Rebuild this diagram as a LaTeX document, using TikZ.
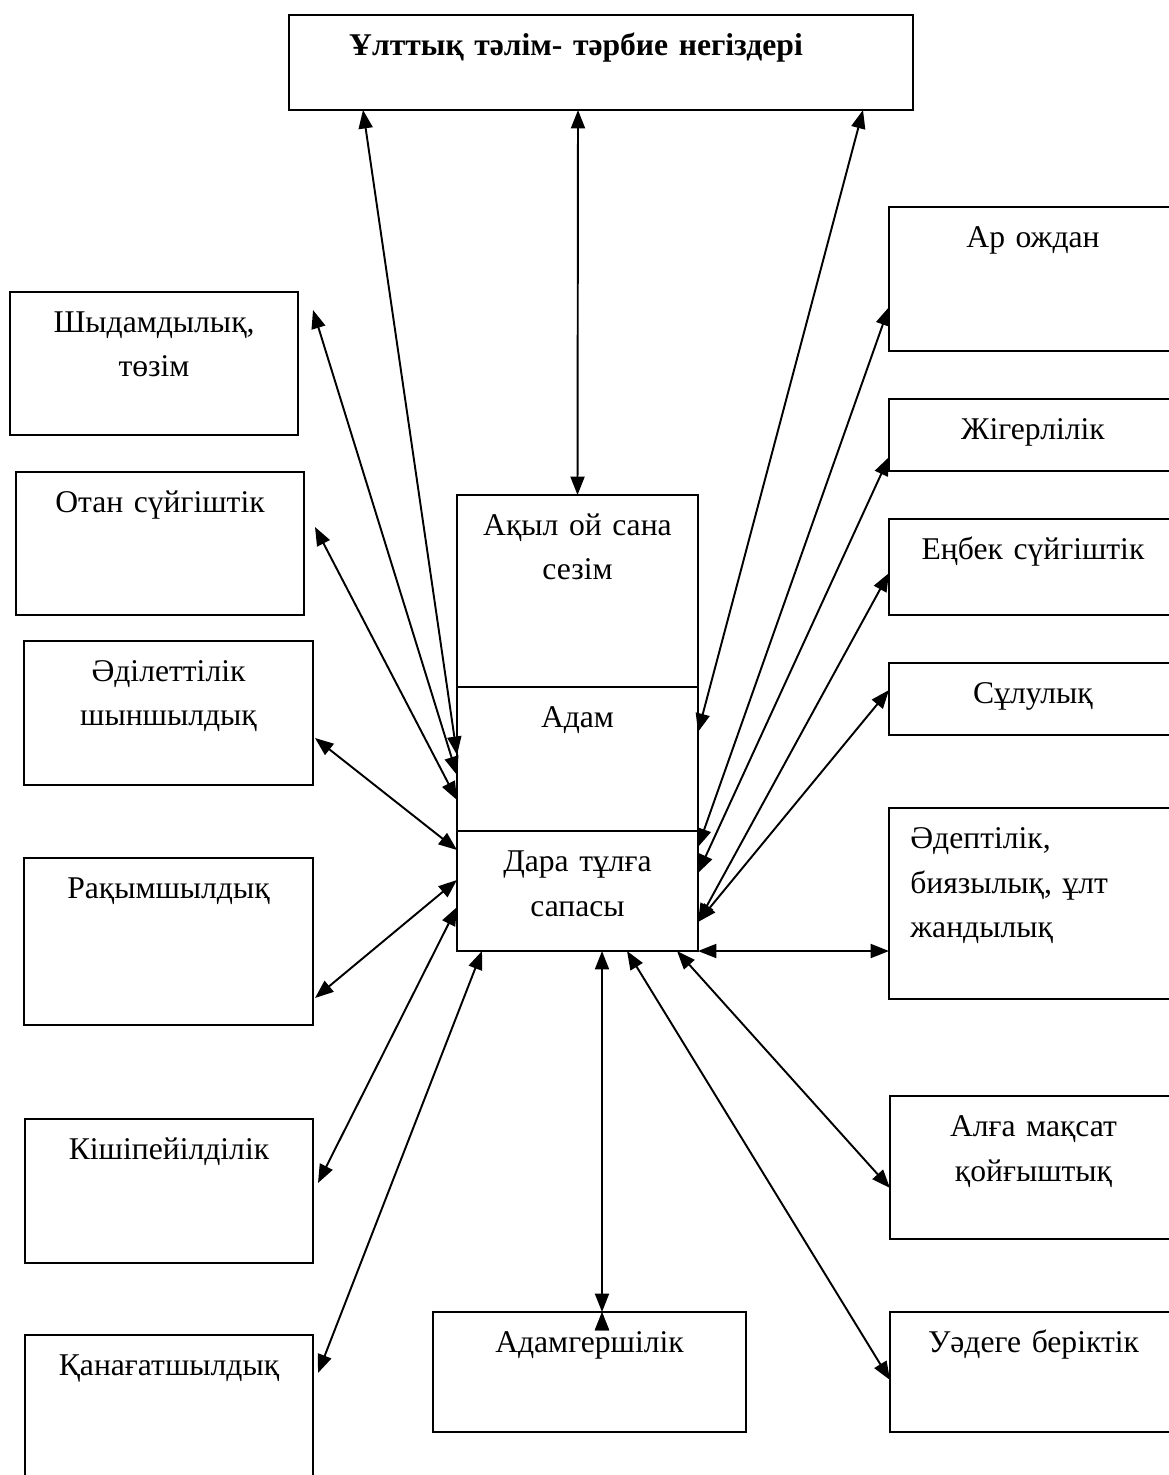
\documentclass[tikz,border=0pt]{standalone}
\usepackage{fontspec}
\setmainfont{Liberation Serif}
\usepackage{tikz}
\usetikzlibrary{arrows.meta, positioning, calc}

\newcommand{\boxfont}{\fontsize{18}{25.6}\selectfont}

\begin{document}
\begin{tikzpicture}[x=0.2mm, y=-0.2mm, >={Triangle[length=10.5pt,width=8pt]}]
    \tikzstyle{box}=[shape=rectangle, draw, line width=1.1pt, anchor=north west, inner sep=0pt, outer sep=0pt]
    \tikzstyle{txt}=[anchor=base, yshift=-8mm, text width=5.6cm, align=center, inner sep=0pt, font=\boxfont]

    \useasboundingbox (0,0) rectangle (1169,1475);

    % top
    \node[box, minimum width=124.8mm, minimum height=19mm,
      label={[txt, text width=11cm, xshift=-5mm, font=\boxfont\bfseries]north:{Ұлттық тәлім- тәрбие негіздері}}] (T0) at (289,15) {};

    % centre
    \node[box, minimum width=48.2mm, minimum height=38.4mm,
      label={[txt]north:{Ақыл ой сана\\ сезім}}] (C0) at (457,495) {};
    \node[box, minimum width=48.2mm, minimum height=28.8mm, below=0pt of C0,
      label={[txt]north:{Адам}}] (C1) {};
    \node[box, minimum width=48.2mm, minimum height=24mm, below=0pt of C1,
      label={[txt]north:{Дара тұлға\\ сапасы}}] (C2) {};

    % left
    \node[box, minimum width=57.6mm, minimum height=28.6mm,
      label={[txt]north:{Шыдамдылық,\\ төзім}}] (L0) at (10,292) {};
    \node[box, minimum width=57.6mm, minimum height=28.6mm,
      label={[txt]north:{Отан сүйгіштік}}] (L1) at (16,472) {};
    \node[box, minimum width=57.8mm, minimum height=28.8mm,
      label={[txt]north:{Әділеттілік\\ шыншылдық}}] (L2) at (24,641) {};
    \node[box, minimum width=57.8mm, minimum height=33.4mm,
      label={[txt]north:{Рақымшылдық}}] (L3) at (24,858) {};
    \node[box, minimum width=57.6mm, minimum height=28.8mm,
      label={[txt]north:{Кішіпейілділік}}] (L4) at (25,1119) {};
    \node[box, minimum width=57.6mm, minimum height=30mm,
      label={[txt]north:{Қанағатшылдық}}] (L5) at (25,1335) {};

    % right
    \node[box, minimum width=57.6mm, minimum height=28.8mm,
      label={[txt]north:{Ар ождан}}] (R0) at (889,207) {};
    \node[box, minimum width=57.6mm, minimum height=14.4mm,
      label={[txt]north:{Жігерлілік}}] (R1) at (889,399) {};
    \node[box, minimum width=57.6mm, minimum height=19.2mm,
      label={[txt]north:{Еңбек сүйгіштік}}] (R2) at (889,519) {};
    \node[box, minimum width=57.6mm, minimum height=14.4mm,
      label={[txt]north:{Сұлулық}}] (R3) at (889,663) {};
    \node[box, minimum width=57.6mm, minimum height=38.2mm,
      label={[txt, anchor=base west, xshift=4.2mm, align=left]north west:{Әдептілік,\\ биязылық, ұлт\\ жандылық}}] (R4) at (889,808) {};
    \node[box, minimum width=57.4mm, minimum height=28.6mm,
      label={[txt]north:{Алға мақсат\\ қойғыштық}}] (R5) at (890,1096) {};
    \node[box, minimum width=57.4mm, minimum height=24mm,
      label={[txt]north:{Уәдеге беріктік}}] (R6) at (890,1312) {};

    % bottom
    \node[box, minimum width=62.6mm, minimum height=24mm,
      label={[txt]north:{Адамгершілік}}] (B0) at (433,1312) {};

    \path[<->, draw, line width=1.1pt]
    ($(T0.south west)+(74,0)$) edge ($(C1.north west)+(0,68)$)
    ($(T0.south)+(-23,0)$) edge (C0.north)
    ($(T0.south east)+(-50,0)$) edge ($(C1.north east)+(0,45)$)

    ($(L0.north east)+(15,18)$) edge ($(C1.north west)+(0,88)$)
    ($(L1.north east)+(11,55)$) edge ($(C1.north west)+(0,113)$)
    ($(L2.south east)+(2,-47)$) edge ($(C2.north west)+(0,19)$)
    ($(L3.south east)+(2,-27)$) edge ($(C2.north west)+(0,49)$)
    ($(L4.north east)+(5,64)$) edge ($(C2.north west)+(0,76)$)
    ($(L5.north east)+(5,38)$) edge ($(C2.south west)+(25,0)$)

    ($(R0.south west)+(0,-44)$) edge ($(C2.north east)+(0,16)$)
    ($(R1.south west)+(0,-14)$) edge ($(C2.north east)+(0,42)$)
    ($(R2.south west)+(0,-42)$) edge ($(C2.south east)+(0,-29)$)
    ($(R3.north west)+(0,27)$) edge ($(C2.south east)+(0,-29)$)
    ($(R4.south west)+(0,-48)$) edge (C2.south east)
    ($(R5.south west)+(0,-51)$) edge ($(C2.south east)+(-21,0)$)
    ($(R6.north west)+(0,68)$) edge ($(C2.south)+(49.5,0)$)

    ($(B0.north)+(12.5,0)$) edge ($(C2.south)+(24.5,0)$)
    ;

\end{tikzpicture}
\end{document}
